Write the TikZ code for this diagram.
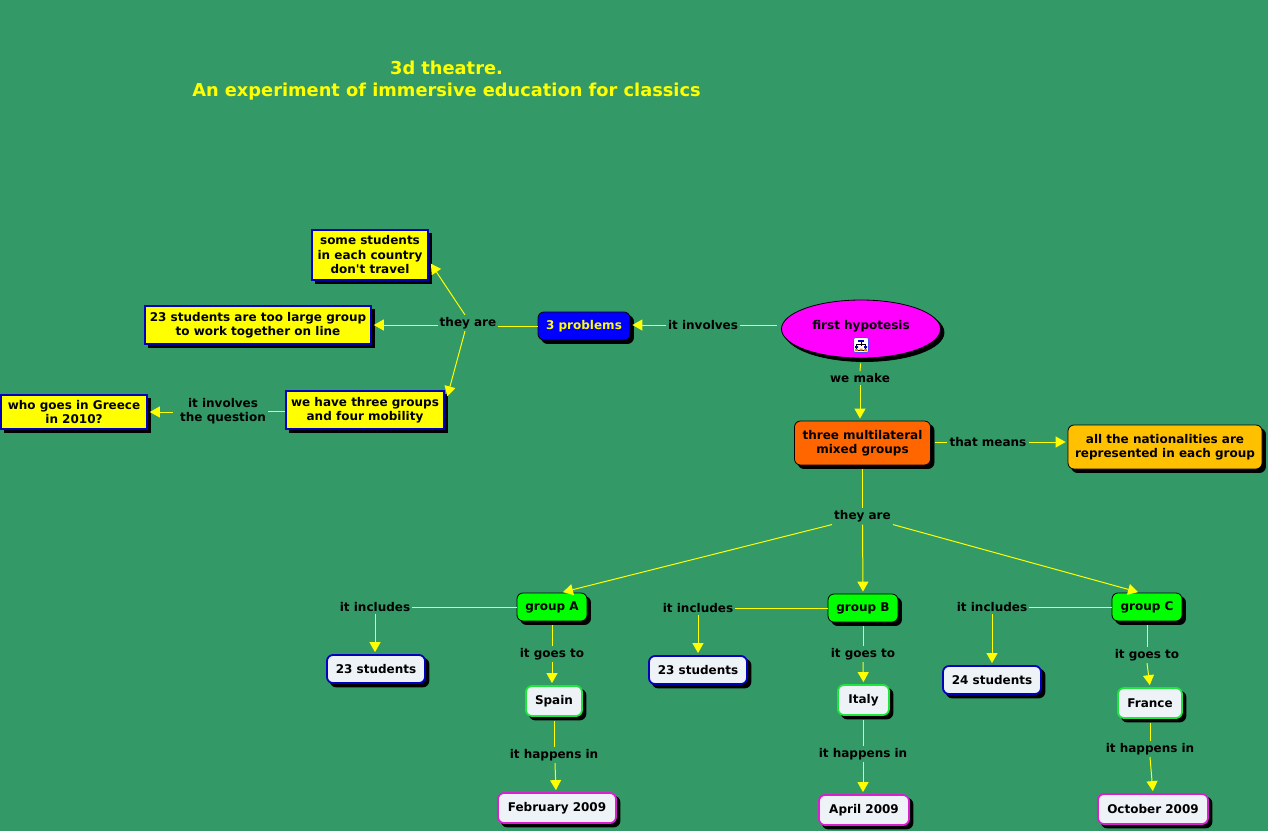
\documentclass[tikz,border=0pt]{standalone}
\usepackage{fontspec}
\setmainfont{DejaVu Sans}
\usetikzlibrary{shapes.geometric, arrows.meta, shadows}
\definecolor{bggreen}{RGB}{51, 153, 102}
\definecolor{linkyellow}{RGB}{255, 255, 0}
\definecolor{pureyellow}{RGB}{255, 255, 0}
\definecolor{puremagenta}{RGB}{255, 0, 255}
\definecolor{probblue}{RGB}{0, 0, 255}
\definecolor{mixorange}{RGB}{255, 102, 0}
\definecolor{natgold}{RGB}{255, 192, 0}
\definecolor{grpgreen}{RGB}{0, 255, 0}
\definecolor{boxwhite}{RGB}{238, 243, 248}
\definecolor{darkblue}{RGB}{0, 0, 190}
\definecolor{pinkline}{RGB}{220, 30, 210}
\definecolor{placegreen}{RGB}{30, 230, 60}
\tikzset{
  base/.style={inner sep=0pt, align=center, font=\fontsize{12}{14.5}\selectfont\bfseries,
    general shadow={fill=black, draw=black, shadow xshift=3.5pt, shadow yshift=-3.5pt}},
  yellowbox/.style={base, rectangle, draw=darkblue, line width=1.6pt, fill=pureyellow},
  roundbox/.style={base, rectangle, rounded corners=6pt, draw=black, line width=0.8pt},
  whitebox/.style={base, rectangle, rounded corners=6pt, line width=1.8pt, fill=boxwhite},
  linklabel/.style={inner sep=2pt, align=center, font=\fontsize{12}{14.5}\selectfont\bfseries},
  link/.style={draw=linkyellow, line width=1pt},
  arrowlink/.style={link, -{Triangle[length=10pt, width=11pt, fill=linkyellow]}, shorten >=2pt}
}
\begin{document}
\begin{tikzpicture}[x=1pt, y=-1pt]
  \fill[bggreen] (0,0) rectangle (1268,831);
  \useasboundingbox (0,0) rectangle (1268,831);

  % title
  \node[font=\fontsize{17.8}{22}\selectfont\bfseries, text=pureyellow, align=center] (title) at (446.5,81) {3d theatre.\\An experiment of immersive education for classics};

  % main concepts
  \node[base, ellipse, draw=black, line width=0.8pt, fill=puremagenta, minimum width=159pt, minimum height=58pt] (hypo) at (861,329) {};
  \node[font=\fontsize{12}{14.5}\selectfont\bfseries, inner sep=0pt] (hypotxt) at (861,326) {first hypotesis};
  \node[roundbox, fill=mixorange, minimum width=136pt, minimum height=44pt] (mixed) at (862.5,443) {three multilateral\\mixed groups};
  \node[roundbox, fill=natgold, minimum width=194pt, minimum height=44pt] (nations) at (1165,447) {all the nationalities are\\represented in each group};
  \node[roundbox, fill=probblue, text=pureyellow, minimum width=92pt, minimum height=28pt] (problems) at (584,326) {3 problems};

  % icon
  \node[draw=probblue!70, fill=white, rounded corners=2pt, minimum size=15pt, inner sep=0pt, line width=0.8pt] (icon) at (861,345) {};
  \fill[probblue!70!black] (858,339.5) rectangle (864,341.5);
  \draw[black, line width=0.5pt] (861,341.5) -- (861,346) (856.5,344) -- (865.5,344) (856.5,344) -- (856.5,349) (865.5,344) -- (865.5,349) (856.5,350) -- (865.5,350);
  \fill[probblue!70!black] (855,346) rectangle (858,348) (864,346) rectangle (867,348);
  \fill[orange] (859.5,348.5) rectangle (862.5,350.5) (855,349) rectangle (858,351) (864,349) rectangle (867,351);

  % problems
  \node[yellowbox, minimum width=116pt, minimum height=50pt] (travel) at (370,255) {some students\\in each country\\don\textquotesingle t travel};
  \node[yellowbox, minimum width=226pt, minimum height=38pt] (toolarge) at (258,325) {23 students are too large group\\to work together on line};
  \node[yellowbox, minimum width=158pt, minimum height=38pt] (threegroups) at (365,410) {we have three groups\\and four mobility};
  \node[yellowbox, minimum width=146pt, minimum height=34pt] (greece) at (74,412) {who goes in Greece\\in 2010?};

  % groups
  \node[roundbox, fill=grpgreen, minimum width=70pt, minimum height=28pt] (groupA) at (552,607) {group A};
  \node[roundbox, fill=grpgreen, minimum width=70pt, minimum height=28pt] (groupB) at (863,608) {group B};
  \node[roundbox, fill=grpgreen, minimum width=70pt, minimum height=28pt] (groupC) at (1147,607) {group C};

  % students
  \node[whitebox, draw=darkblue, minimum width=98pt, minimum height=28pt] (studA) at (376,669) {23 students};
  \node[whitebox, draw=darkblue, minimum width=98pt, minimum height=28pt] (studB) at (698,670) {23 students};
  \node[whitebox, draw=darkblue, minimum width=98pt, minimum height=28pt] (studC) at (992,680) {24 students};

  % places
  \node[whitebox, draw=placegreen, minimum width=56pt, minimum height=30pt] (spain) at (554,701) {Spain};
  \node[whitebox, draw=placegreen, minimum width=51pt, minimum height=30pt] (italy) at (863.5,700) {Italy};
  \node[whitebox, draw=placegreen, minimum width=64pt, minimum height=30pt] (france) at (1150,703) {France};

  % dates
  \node[whitebox, draw=pinkline, minimum width=118pt, minimum height=30pt] (febr) at (557,808) {February 2009};
  \node[whitebox, draw=pinkline, minimum width=90pt, minimum height=30pt] (april) at (864,810) {April 2009};
  \node[whitebox, draw=pinkline, minimum width=110pt, minimum height=30pt] (octob) at (1153,809) {October 2009};

  % link labels
  \node[linklabel] (involves) at (703,325) {it involves};
  \node[linklabel] (theyare1) at (468,323) {they are};
  \node[linklabel] (question) at (223,411) {it involves\\the question};
  \node[linklabel] (wemake) at (860,378) {we make};
  \node[linklabel] (means) at (988,442) {that means};
  \node[linklabel] (theyare2) at (862.5,516.5) {they are};
  \node[linklabel] (inclA) at (375,607) {it includes};
  \node[linklabel] (inclB) at (698,608) {it includes};
  \node[linklabel] (inclC) at (992,607) {it includes};
  \node[linklabel] (goesA) at (552,654) {it goes to};
  \node[linklabel] (goesB) at (863,654) {it goes to};
  \node[linklabel] (goesC) at (1147,655) {it goes to};
  \node[linklabel] (happA) at (554,755) {it happens in};
  \node[linklabel] (happB) at (863,754) {it happens in};
  \node[linklabel] (happC) at (1150,749) {it happens in};

  % connectors
  \draw[link, shorten <=4pt] (hypo.west |- involves.east) -- (involves.east);
  \draw[arrowlink] (involves.west) -- (involves.west -| problems.east);
  \draw[link] (problems.west) -- (problems.west -| theyare1.east);
  \draw[arrowlink] ([xshift=-3pt]theyare1.north) -- ([xshift=1pt, yshift=-7pt]travel.east);
  \draw[arrowlink] (theyare1.west |- toolarge.east) -- (toolarge.east);
  \draw[arrowlink] ([xshift=-3pt]theyare1.south) -- ([xshift=2pt, yshift=-8pt]threegroups.north east);
  \draw[link] (threegroups.west |- question.east) -- (question.east);
  \draw[arrowlink, shorten <=5pt] (question.west |- greece.east) -- (greece.east);
  \draw[link, shorten <=5pt] (hypo.south) -- (wemake.north);
  \draw[arrowlink] (wemake.south) -- (mixed.north -| wemake.south);
  \draw[link, shorten <=4pt] (mixed.east |- means.west) -- (means.west);
  \draw[arrowlink] (means.east) -- (means.east -| nations.west);
  \draw[link, shorten <=4pt] (mixed.south) -- (theyare2.north);
  \draw[arrowlink] (theyare2.south west) -- ([xshift=9pt]groupA.north);
  \draw[arrowlink] (theyare2.south) -- (groupB.north);
  \draw[arrowlink] (theyare2.south east) -- ([xshift=-7pt]groupC.north);
  \draw[link] (groupA.west) -- (inclA.east);
  \draw[arrowlink] (inclA.south) -- (inclA.south |- studA.north);
  \draw[link] (groupB.west) -- (inclB.east);
  \draw[arrowlink] (inclB.south) -- (inclB.south |- studB.north);
  \draw[link] (groupC.west) -- (inclC.east);
  \draw[arrowlink] (inclC.south) -- (inclC.south |- studC.north);
  \draw[link, shorten <=4pt] (groupA.south) -- (goesA.north);
  \draw[arrowlink] (goesA.south) -- (spain.north -| goesA.south);
  \draw[link, shorten <=4pt] (groupB.south) -- (goesB.north);
  \draw[arrowlink] (goesB.south) -- (italy.north);
  \draw[link, shorten <=4pt] (groupC.south) -- (goesC.north);
  \draw[arrowlink] (goesC.south) -- (france.north);
  \draw[link, shorten <=4pt] (spain.south) -- (happA.north -| spain.south);
  \draw[arrowlink] ([xshift=1pt]happA.south) -- ([xshift=-1pt]febr.north);
  \draw[link, shorten <=4pt] (italy.south) -- (happB.north -| italy.south);
  \draw[arrowlink] (happB.south) -- (april.north -| happB.south);
  \draw[link, shorten <=4pt] (france.south) -- (happC.north);
  \draw[arrowlink] (happC.south) -- (octob.north);
\end{tikzpicture}
\end{document}
